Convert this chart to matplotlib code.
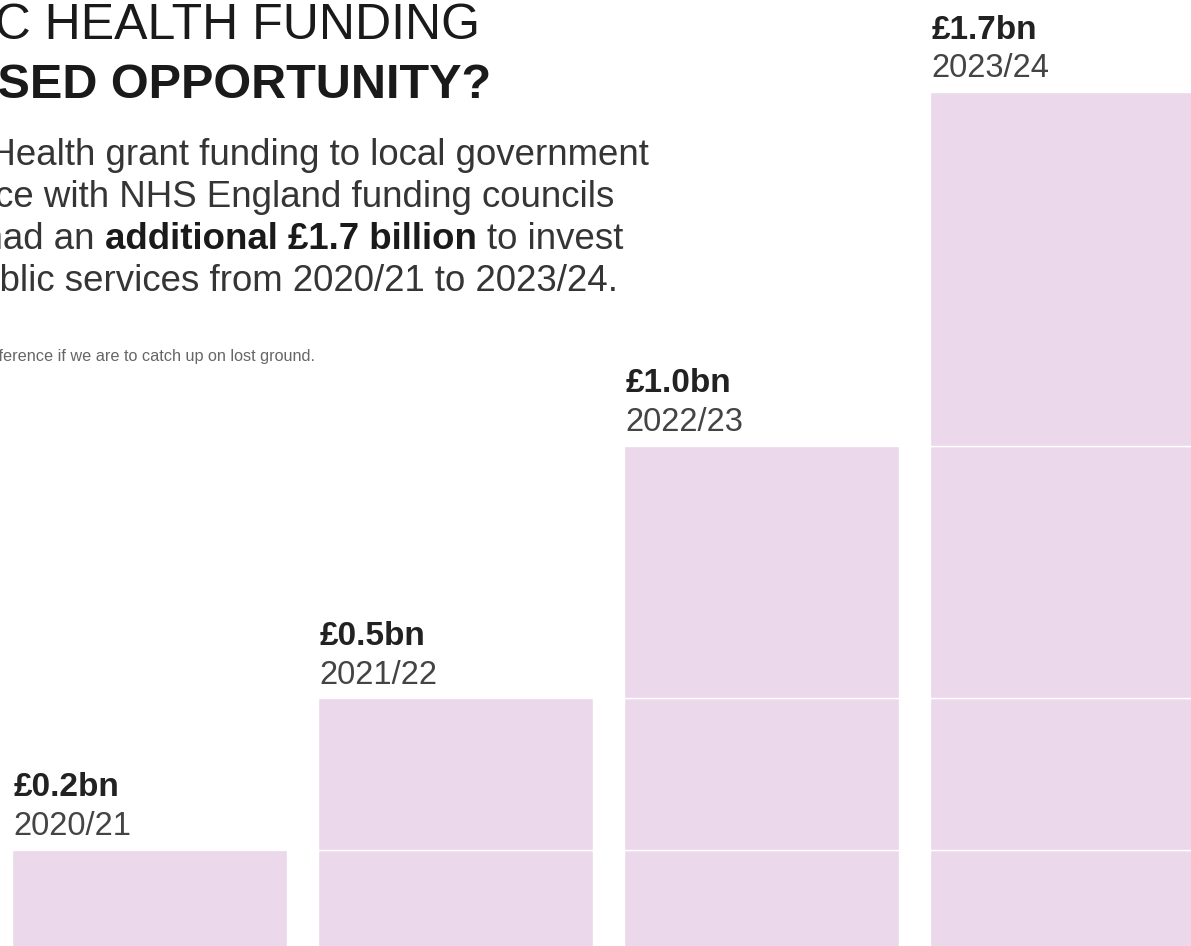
import numpy as np
import matplotlib.pyplot as plt

plt.rcParams['font.family'] = ['Liberation Sans', 'DejaVu Sans']

# cumulative extra funding (bn) by year
years = ['2020/21', '2021/22', '2022/23', '2023/24']
totals = [0.2, 0.5, 1.0, 1.7]
value_labels = ['£0.2bn', '£0.5bn', '£1.0bn', '£1.7bn']

title_lines = ['PUBLIC HEALTH FUNDING', 'A MISSED OPPORTUNITY?']
body_lines = [
    [('Had Public Health grant funding to local government', 'normal')],
    [('kept pace with NHS England funding councils', 'normal')],
    [('would have had an', 'normal'), ('additional £1.7 billion', 'bold'), ('to invest', 'normal')],
    [('in public services from 2020/21 to 2023/24.', 'normal')],
]
note = 'This would make a real difference if we are to catch up on lost ground.'

W, H = 1191, 946
bar_color = '#ebd8eb'
body_size = 26.4

fig = plt.figure(figsize=(W / 100, H / 100), dpi=100)
ax = fig.add_axes([0, 0, 1, 1])
ax.set_axis_off()

# each year's bar is built from the yearly increments stacked up to that year
increments = np.diff(np.concatenate([[0], totals]))
x = np.arange(len(years))
width = 275 / 306
for i in range(len(years)):
    bottoms = np.concatenate([[0], np.cumsum(increments[:i])])
    ax.bar(np.full(i + 1, x[i]), increments[:i + 1], bottom=bottoms, width=width,
           color=bar_color, edgecolor='white', linewidth=1.0)

for xi, tot, val, yr in zip(x, totals, value_labels, years):
    left = xi - width / 2
    ax.annotate(yr, (left, tot), xytext=(1, 10.5), textcoords='offset points',
                ha='left', va='baseline', fontsize=23.5, color='#444444')
    ax.annotate(val, (left, tot), xytext=(1.2, 38.5), textcoords='offset points',
                ha='left', va='baseline', fontsize=24, fontweight='bold', color='#222222')

ax.set_xlim(-149.5 / 306, (W - 149.5) / 306)
ax.set_ylim(5 / 505.3, 951 / 505.3)


def px(xp, yp):
    return xp / W, 1 - yp / H


fig.text(*px(480, 39), title_lines[0], ha='right', va='baseline',
         fontsize=36, color='#1a1a1a')
fig.text(*px(491, 98), title_lines[1], ha='right', va='baseline',
         fontsize=35, fontweight='bold', color='#1a1a1a')

# body copy, right edges and baselines per line
renderer = fig.canvas.get_renderer()
probe_a = fig.text(0, 0, 'a a', fontsize=body_size)
probe_b = fig.text(0, 0, 'aa', fontsize=body_size)
space_w = probe_a.get_window_extent(renderer).width - probe_b.get_window_extent(renderer).width
probe_a.remove()
probe_b.remove()

right_edges = [649, 614, 623, 618]
baselines = [165, 207, 249, 291]
for pieces, xr, yb in zip(body_lines, right_edges, baselines):
    xcur = xr
    for text, weight in reversed(pieces):
        t = fig.text(*px(xcur, yb), text, ha='right', va='baseline', fontsize=body_size,
                     fontweight=weight, color='#353535' if weight == 'normal' else '#1a1a1a')
        bb = t.get_window_extent(renderer)
        xcur = bb.x0 - space_w

fig.text(*px(315, 361), note, ha='right', va='baseline', fontsize=11.7, color='#666666')

fig.savefig('out.png', dpi=100, facecolor='white')
